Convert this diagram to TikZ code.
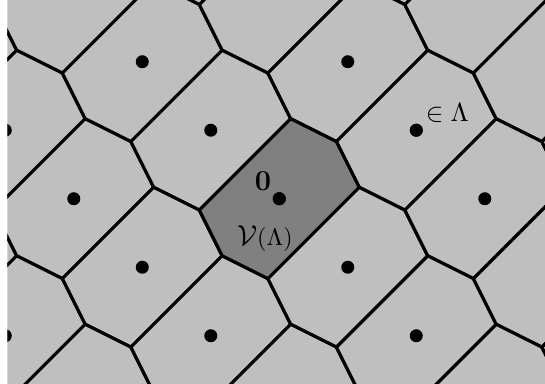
\documentclass[tikz,border=0pt]{standalone}
\usepackage{amsmath,amssymb}
\usetikzlibrary{positioning}

\begin{document}
\begin{tikzpicture}[
  cell/.style={draw, fill=black!25, line width=1.3pt, line join=round},
  zerocell/.style={cell, fill=black!50},
  pt/.style={circle, fill=black, inner sep=0pt, minimum size=5.4pt},
  lab/.style={inner sep=0pt}
]
\useasboundingbox (-4.077,-2.690) rectangle (3.879,2.901);
\clip (-3.968,-2.690) rectangle (3.879,2.901);
% Voronoi cells of the lattice spanned by (1,-1) and (2,1)
\foreach \m in {-5,...,5}
  \foreach \n in {-3,...,3}
    \draw[cell, shift={({\m+2*\n},{\n-\m})}]
      (1/6,7/6) -- (5/6,5/6) -- (7/6,1/6) -- (-1/6,-7/6) -- (-5/6,-5/6) -- (-7/6,-1/6) -- cycle;
\draw[zerocell]
  (1/6,7/6) -- (5/6,5/6) -- (7/6,1/6) -- (-1/6,-7/6) -- (-5/6,-5/6) -- (-7/6,-1/6) -- cycle;
% lattice points
\foreach \m in {-5,...,5}
  \foreach \n in {-3,...,3}
    \node[pt] at ({\m+2*\n},{\n-\m}) {};
\node[pt] (o) at (0,0) {};
\node[pt] (p) at (2,1) {};
\node[lab, above left=0.4mm and 0.4mm of o, font=\large] (zero) {$\mathbf{0}$};
\node[lab, below=2.9mm of o, xshift=-2.1mm] (vor) {{\large$\mathcal{V}$}$(\Lambda)$};
\node[lab, above right=0.35mm and 0.6mm of p, font=\fontsize{11}{13}\selectfont] (memb) {$\in \Lambda$};
\end{tikzpicture}
\end{document}
